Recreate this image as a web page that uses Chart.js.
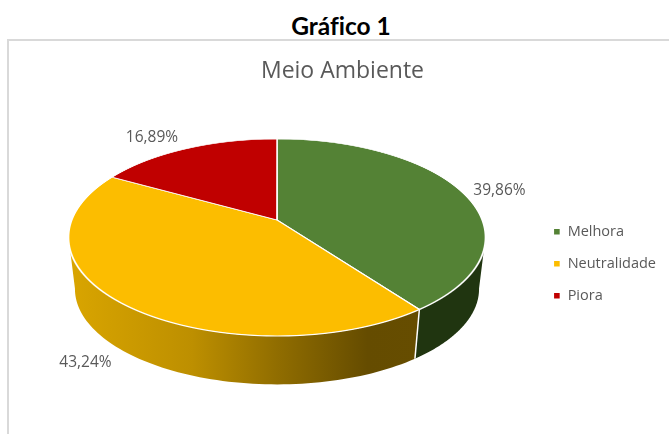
<!DOCTYPE html>
<html>
<head>
<meta charset="utf-8">
<title>Gráfico 1</title>
<script src="https://cdn.jsdelivr.net/npm/chart.js@4"></script>
<style>
 html,body{margin:0;padding:0;background:#fff;overflow:hidden;}
 #wrap{position:relative;width:669px;height:434px;}
 #heading{position:absolute;left:0;top:11px;width:682px;text-align:center;font:bold 24.5px Lato,sans-serif;font-variant-ligatures:none;color:#000;line-height:30px;}
 #frame{position:absolute;left:7px;top:39px;width:662px;height:395px;border-left:2px solid #d9d9d9;border-top:2px solid #d9d9d9;box-sizing:border-box;}
 canvas{position:absolute;left:0;top:0;}
</style>
</head>
<body>
<div id="wrap">
 <div id="heading">Gráfico 1</div>
 <div id="frame"></div>
 <canvas id="chart" width="669" height="434"></canvas>
</div>
<script>
const categorias=["Melhora","Neutralidade","Piora"];
const valores=[39.86,43.24,16.89];
const cores=["#548235","#fcbd00","#c00000"];
const coresLado=["#203510",null,"#5e0000"];
const rotulosXY=[[499.5,191],[85.5,362.5],[152,138]];

// perspectiva do topo do disco (valores medidos na imagem)
const X0=277,Y0=220,A=205.2,B=95.4,P=0.1776;
// base do disco, um pouco menor por causa da perspectiva
const BASE_Y=272,BASE_S=0.969;
// angulo onde a borda do disco fica na vertical
const TANGENTE=0.174;

function rim(t,s,yc){
 let u=Math.cos(t),v=Math.sin(t),w=1-P*v;
 return [X0+s*A*u/w,yc+s*B*v/w];
}

function gradAmarelo(ctx){
 let g=ctx.createLinearGradient(70,0,420,0);
 g.addColorStop(0,"#d9a500");
 g.addColorStop(0.35,"#bd8f00");
 g.addColorStop(0.6,"#8f6c00");
 g.addColorStop(0.85,"#654c00");
 g.addColorStop(1,"#664d00");
 return g;
}

const pizza3d={
 id:"pizza3d",
 beforeDatasetsDraw(chart){
  const ctx=chart.ctx;
  const arcs=chart.getDatasetMeta(0).data;

  // lateral do disco
  arcs.forEach((arc,i)=>{
   let t1=Math.max(arc.startAngle,TANGENTE),t2=Math.min(arc.endAngle,Math.PI-TANGENTE);
   if(t2<=t1) return;
   ctx.save();
   ctx.beginPath();
   for(let k=0;k<=80;k++){
    let p=rim(t1+(t2-t1)*k/80,1,Y0);
    k==0?ctx.moveTo(p[0],p[1]):ctx.lineTo(p[0],p[1]);
   }
   for(let k=80;k>=0;k--){
    let p=rim(t1+(t2-t1)*k/80,BASE_S,BASE_Y);
    ctx.lineTo(p[0],p[1]);
   }
   ctx.closePath();
   ctx.fillStyle=coresLado[i]||gradAmarelo(ctx);
   ctx.fill();
   ctx.restore();
  });

  // linha branca entre as fatias na lateral
  arcs.forEach(arc=>{
   let t=arc.endAngle;
   if(Math.sin(t)<=0) return;
   let a=rim(t,1,Y0),b=rim(t,BASE_S,BASE_Y);
   ctx.save();
   ctx.strokeStyle="#fff";
   ctx.lineWidth=1.5;
   ctx.beginPath();
   ctx.moveTo(a[0],a[1]);
   ctx.lineTo(b[0],b[1]);
   ctx.stroke();
   ctx.restore();
  });

  // topo: desenha os arcos linha por linha, cada linha com a sua escala
  for(let y=135;y<342;y++){
   let d=y+0.5-Y0;
   let v=d/(B+P*d),w=1-P*v;
   ctx.save();
   ctx.beginPath();
   ctx.rect(0,y,chart.width,1);
   ctx.clip();
   arcs.forEach(arc=>{
    let R=arc.outerRadius;
    let sx=A/(w*R),sy=B/(w*w*R);
    ctx.save();
    ctx.setTransform(sx,0,0,sy,X0-arc.x*sx,y+0.5-(arc.y+v*R)*sy);
    arc.draw(ctx);
    ctx.restore();
   });
   ctx.restore();
  }
  return false;
 },
 // o retorno false acima pula afterDatasetsDraw, por isso os rotulos ficam aqui
 afterDraw(chart){
  const ctx=chart.ctx;
  ctx.save();
  ctx.font="15.5px 'Open Sans'";
  ctx.fillStyle="#595959";
  ctx.textAlign="center";
  ctx.textBaseline="middle";
  valores.forEach((n,i)=>{
   ctx.fillText(n.toFixed(2).replace(".",",")+"%",rotulosXY[i][0],rotulosXY[i][1]);
  });
  ctx.restore();
 }
};

new Chart(document.getElementById("chart"),{
 type:"pie",
 data:{
  labels:categorias,
  datasets:[{
   data:valores,
   backgroundColor:cores,
   borderColor:"#fff",
   borderWidth:1.4,
   hoverOffset:0
  }]
 },
 options:{
  responsive:false,
  animation:false,
  layout:{padding:{left:19,right:3,top:58,bottom:0}},
  plugins:{
   tooltip:{enabled:false},
   title:{
    display:true,
    text:"Meio Ambiente",
    color:"#595959",
    font:{family:"'Open Sans'",size:23,weight:"normal"},
    padding:{top:0,bottom:8}
   },
   legend:{
    position:"right",
    fullSize:false,
    labels:{
     boxWidth:7,
     boxHeight:7,
     padding:17.5,
     color:"#595959",
     font:{family:"'Open Sans'",size:14.5}
    }
   }
  }
 },
 plugins:[pizza3d]
});
</script>
</body>
</html>
